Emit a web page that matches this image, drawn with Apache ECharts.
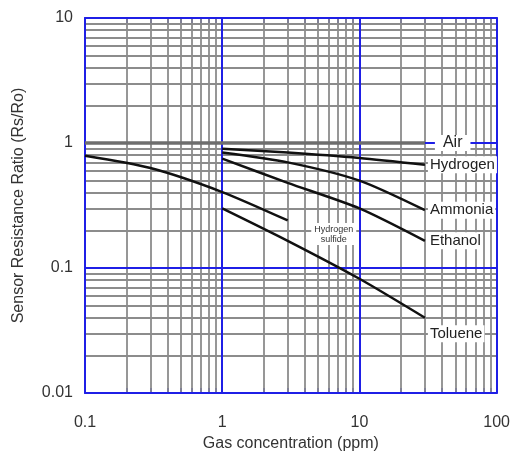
<!DOCTYPE html>
<html>
<head>
<meta charset="utf-8">
<style>
  html, body { margin: 0; padding: 0; background: #fff; }
  #chart { width: 513px; height: 457px; }
</style>
<script src="https://cdn.jsdelivr.net/npm/echarts@6/dist/echarts.min.js"></script>
</head>
<body>
<div id="chart"></div>
<script>
// gas concentration (ppm) vs Rs/Ro
var airX = [0.1, 30];
var airY = [1, 1];
var h2sX = [0.1, 0.3, 1, 3];
var h2sY = [0.79, 0.63, 0.405, 0.24];
var hydrogenX = [1, 3, 10, 30];
var hydrogenY = [0.9, 0.84, 0.76, 0.67];
var ammoniaX = [1, 3, 10, 30];
var ammoniaY = [0.84, 0.7, 0.5, 0.29];
var ethanolX = [1, 3, 10, 30];
var ethanolY = [0.75, 0.48, 0.3, 0.165];
var tolueneX = [1, 3, 10, 30];
var tolueneY = [0.3, 0.165, 0.082, 0.04];

var xMajor = [0.1, 1, 10, 100];
var xMinor = [0.2, 0.3, 0.4, 0.5, 0.6, 0.7, 0.8, 0.9, 2, 3, 4, 5, 6, 7, 8, 9, 20, 30, 40, 50, 60, 70, 80, 90];
var yMajor = [0.01, 0.1, 1, 10];
var yMinor = [0.02, 0.03, 0.04, 0.05, 0.06, 0.07, 0.08, 0.09, 0.2, 0.3, 0.4, 0.5, 0.6, 0.7, 0.8, 0.9, 2, 3, 4, 5, 6, 7, 8, 9];

var FONT = 'Liberation Sans, Arial, sans-serif';
var BLUE = '#1f1fe6';

function pairs (xs, ys) {
  return xs.map(function (x, i) { return [x, ys[i]] })
}

function curve (name, xs, ys, labelOpt, extra) {
  return Object.assign({
    name: name,
    type: 'line',
    data: pairs(xs, ys),
    symbol: 'none',
    smooth: 0.25,
    z: 5,
    lineStyle: { color: '#111', width: 2.5 },
    endLabel: Object.assign({
      show: true,
      distance: 3,
      formatter: name,
      fontFamily: FONT,
      fontSize: 15,
      color: '#222',
      backgroundColor: '#fff',
      padding: [1, 2]
    }, labelOpt || {})
  }, extra || {})
}

function axisCommon (isX, pos, withLabel) {
  return {
    type: 'log',
    logBase: 10,
    position: pos,
    min: isX ? 0.1 : 0.01,
    max: isX ? 100 : 10,
    interval: 1,
    axisLine: { show: true, onZero: false, lineStyle: { color: BLUE, width: 2 } },
    axisTick: {
      show: true,
      inside: true,
      length: 5,
      customValues: (isX ? xMajor.concat(xMinor) : yMajor.concat(yMinor)),
      lineStyle: { color: BLUE, width: 2 }
    },
    axisLabel: {
      show: withLabel,
      customValues: isX ? xMajor : yMajor,
      fontFamily: FONT,
      fontSize: 16,
      color: '#333',
      margin: isX ? 22 : 12
    },
    splitLine: { show: false }
  }
}

var chart = echarts.init(document.getElementById('chart'));

var xBottom = axisCommon(true, 'bottom', true);
xBottom.name = 'Gas concentration (ppm)';
xBottom.nameLocation = 'middle';
xBottom.nameGap = 42;
xBottom.nameTextStyle = { fontFamily: FONT, fontSize: 16, color: '#333' };
var xTop = axisCommon(true, 'top', false);

var yLeft = axisCommon(false, 'left', true);
yLeft.name = 'Sensor Resistance Ratio (Rs/Ro)';
yLeft.nameLocation = 'middle';
yLeft.nameGap = 58;
yLeft.nameTextStyle = { fontFamily: FONT, fontSize: 16, color: '#333' };
var yRight = axisCommon(false, 'right', false);

var gridLines = {
  name: 'grid',
  type: 'line',
  data: [],
  silent: true,
  z: 1,
  markLine: {
    silent: true,
    z: 1,
    symbol: ['none', 'none'],
    animation: false,
    label: { show: false },
    data: []
  }
};
xMinor.forEach(function (v) {
  gridLines.markLine.data.push({ xAxis: v, lineStyle: { color: '#8c8c8c', width: 1.8, type: 'solid' } })
});
yMinor.forEach(function (v) {
  gridLines.markLine.data.push({ yAxis: v, lineStyle: { color: '#8c8c8c', width: 1.8, type: 'solid' } })
});
xMajor.forEach(function (v) {
  gridLines.markLine.data.push({ xAxis: v, lineStyle: { color: BLUE, width: 2, type: 'solid' } })
});
yMajor.forEach(function (v) {
  gridLines.markLine.data.push({ yAxis: v, lineStyle: { color: BLUE, width: 2, type: 'solid' } })
});

chart.setOption({
  animation: false,
  backgroundColor: '#fff',
  grid: { left: 85, right: 15, top: 18, bottom: 64 },
  xAxis: [xBottom, xTop],
  yAxis: [yLeft, yRight],
  series: [
    gridLines,
    curve('Air', airX, airY, { distance: 10, padding: [0, 8], fontSize: 16 }, {
      smooth: false,
      z: 4,
      lineStyle: { color: '#6e6e6e', width: 3.5 }
    }),
    curve('Hydrogen', hydrogenX, hydrogenY),
    curve('Ammonia', ammoniaX, ammoniaY),
    curve('Ethanol', ethanolX, ethanolY),
    curve('Toluene', tolueneX, tolueneY, { offset: [0, 16] }),
    curve('Hydrogen sulfide', h2sX, h2sY, { show: false }, {
      markPoint: {
        symbol: 'rect',
        symbolSize: 0,
        silent: true,
        data: [{
          coord: [6.5, 0.187],
          label: {
            show: true,
            position: 'inside',
            formatter: 'Hydrogen\nsulfide',
            fontFamily: FONT,
            fontSize: 9,
            lineHeight: 10,
            color: '#333',
            backgroundColor: '#fff',
            padding: [1, 3]
          }
        }]
      }
    })
  ]
});
</script>
</body>
</html>
